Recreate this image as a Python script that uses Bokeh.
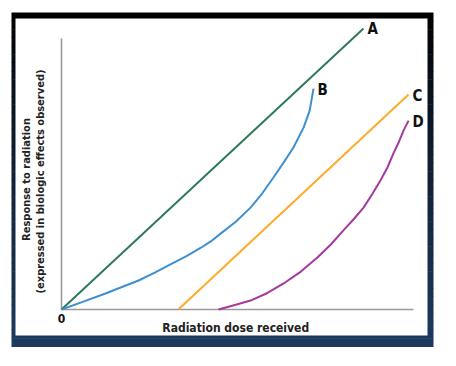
from bokeh.plotting import figure
from bokeh.embed import file_html
from bokeh.resources import INLINE
from bokeh.core.properties import value

# ---- data (dose, response) ----
a_dose = [0, 85.8]
a_resp = [0, 103.7]

b_dose = [0, 6.0, 12.5, 17.0, 21.9, 26.5, 31.5, 35.5, 39.5, 42.5, 45.2, 49.5, 53.7, 57.0, 60.2, 63.0, 65.9, 68.8, 70.5, 71.6]
b_resp = [0, 2.8, 5.9, 8.2, 10.7, 13.6, 17.0, 19.7, 22.7, 25.2, 28.0, 32.4, 37.6, 42.8, 48.7, 54.0, 59.8, 67.2, 73.4, 81.5]

c_dose = [33.2, 98.6]
c_resp = [0, 79.3]

d_dose = [44.6, 49.0, 53.7, 58.5, 63.1, 68.0, 72.7, 76.5, 80.1, 83.0, 85.8, 88.3, 90.6, 92.6, 94.3, 95.9, 97.2, 98.6]
d_resp = [0, 1.6, 3.3, 6.1, 9.6, 14.0, 19.2, 24.0, 29.2, 33.3, 37.6, 42.6, 47.6, 52.4, 57.6, 62.0, 66.1, 69.7]

series_names = ["A", "B", "C", "D"]
x_max = 100
y_max = 100
tick_label = "0"
x_title = "Radiation dose received"
y_title_1 = "Response to radiation"
y_title_2 = "(expressed in biologic effects observed)"

# ---- layout helpers (page pixel -> data) ----
W, H = 456, 366
SX, SY = 3.52, 2.71
OX, OY = 61, 309  # canvas position of the origin


def fx(px):
    return (px - OX) / SX


def fy(py):
    return (OY - py) / SY


p = figure(width=W, height=H, output_backend="svg", toolbar_location=None,
           x_range=(fx(0), fx(W)), y_range=(fy(H), fy(0)),
           min_border=0, min_border_left=0, min_border_right=0,
           min_border_top=0, min_border_bottom=0)
p.axis.visible = False
p.grid.visible = False
p.outline_line_color = None
p.background_fill_color = "white"
p.border_fill_color = "white"

# ---- frame: dark gradient border (black at top to navy at bottom) ----
top, bot = 12, 346
n = 40
c0 = (0, 0, 0)
c1 = (0x1d, 0x3a, 0x5e)
lefts, rights, tops, bottoms, cols = [], [], [], [], []
for i in range(n):
    y0 = top + (bot - top) * i / n
    y1 = top + (bot - top) * (i + 1) / n
    t = (i / (n - 1)) ** 0.8
    col = "#%02x%02x%02x" % tuple(int(round(c0[k] + (c1[k] - c0[k]) * t)) for k in range(3))
    lefts.append(fx(11)); rights.append(fx(433))
    tops.append(fy(y0)); bottoms.append(fy(y1 + 0.5))
    cols.append(col)
p.quad(left=lefts, right=rights, top=tops, bottom=bottoms,
       fill_color=cols, line_color=None)
p.quad(left=[fx(15)], right=[fx(427)], top=[fy(18)], bottom=[fy(335)],
       fill_color="white", line_color=None)

# ---- axes ----
axis_col = "#9a9a9a"
p.line([0, 0], [0, y_max], line_color=axis_col, line_width=1.6)
p.line([0, x_max], [0, 0], line_color=axis_col, line_width=1.6)

font = value("DejaVu Sans Condensed")
p.text(x=[0], y=[0], text=[tick_label], text_font=font, text_font_style="bold",
       text_font_size="12px", text_align="center", text_baseline="top",
       y_offset=4, text_color="#111111")
p.text(x=[x_max / 2 - 0.5], y=[0], text=[x_title], text_font=font,
       text_font_style="bold", text_font_size="12px", text_align="center",
       text_baseline="top", y_offset=11, text_color="#222222")
p.text(x=[fx(26)], y=[fy(179)], text=[y_title_1], text_font=font,
       text_font_style="bold", text_font_size="11px", text_align="center",
       text_baseline="middle", angle=1.5708, text_color="#222222")
p.text(x=[fx(40)], y=[fy(181)], text=[y_title_2], text_font=font,
       text_font_style="bold", text_font_size="11px", text_align="center",
       text_baseline="middle", angle=1.5708, text_color="#222222")

# ---- curves ----
lw = 2
p.line(a_dose, a_resp, line_color="#2e7a58", line_width=lw)
p.line(b_dose, b_resp, line_color="#3d8fd0", line_width=lw)
p.line(c_dose, c_resp, line_color="#ffaa2a", line_width=lw)
p.line(d_dose, d_resp, line_color="#a33a9e", line_width=lw)

ends_x = [a_dose[-1], b_dose[-1], c_dose[-1], d_dose[-1]]
ends_y = [a_resp[-1], b_resp[-1], c_resp[-1], d_resp[-1]]
p.text(x=ends_x, y=ends_y, text=series_names, text_font=font,
       text_font_style="bold", text_font_size="15px", text_align="left",
       text_baseline="middle", x_offset=4, y_offset=1, text_color="#111111")

open("out.html", "w").write(file_html(p, INLINE))
